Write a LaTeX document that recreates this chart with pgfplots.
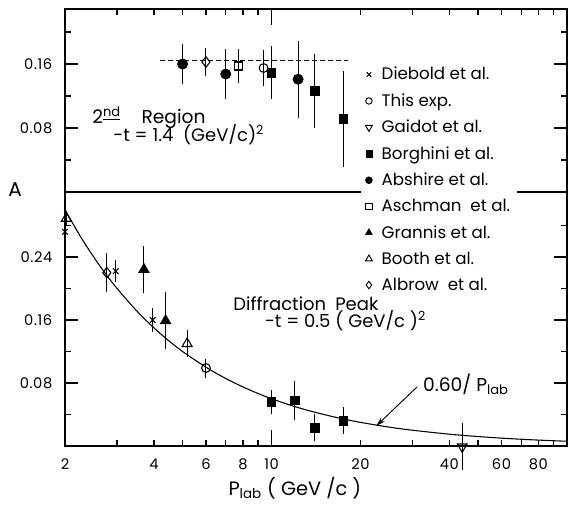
\documentclass[border=0pt]{standalone}
\usepackage{fontspec}
\setmainfont{Poppins}
\newfontfamily\ticks[LetterSpace=4]{Poppins}
\usepackage{pgfplots}
\pgfplotsset{compat=1.18}
\usetikzlibrary{arrows.meta}

\pgfplotsset{
  errpt/.style={only marks, black, line width=0.8pt,
    error bars/y dir=both, error bars/y explicit,
    error bars/error bar style={line width=0.75pt, solid},
    error bars/error mark options={line width=0.75pt, mark size=3pt}},
  diebold/.style={mark=x, mark size=3pt},
  thisexp/.style={mark=o, mark size=3.3pt, mark options={fill=white}},
  gaidot/.style={mark=triangle, mark size=4.2pt, mark options={rotate=180, fill=white}},
  borghini/.style={mark=square*, mark size=3.2pt},
  abshire/.style={mark=*, mark size=3.7pt},
  aschman/.style={mark=square, mark size=3pt, mark options={fill=white}},
  grannis/.style={mark=triangle*, mark size=4.3pt},
  booth/.style={mark=triangle, mark size=4.3pt, mark options={fill=white}},
  albrow/.style={mark=diamond, mark size=4pt, mark options={fill=white}},
}

\begin{document}
\begin{tikzpicture}
% upper panel: 2nd region
\begin{axis}[name=upper,
    scale only axis, width=376.5pt, height=137.25pt,
    at={(0pt,190.5pt)}, anchor=south west,
    xmode=log, xmin=2, xmax=100, ymin=0, ymax=0.2288,
    axis line style={line width=1.1pt},
    tick style={line width=0.9pt, black},
    major tick length=4.5pt, minor tick length=4.5pt,
    tick align=inside,
    ticklabel style={font=\ticks\fontsize{11}{12}\selectfont},
    yticklabel style={xshift=-6pt},
    xtick={2,3,4,5,6,7,8,9,20,30,40,50,60,70,80,90},
    xtick pos=right, xticklabels={},
    extra x ticks={10}, extra x tick labels={},
    extra x tick style={major tick length=12pt},
    ytick={0.04,0.12,0.20}, yticklabels={},
    extra y ticks={0.08,0.16}, extra y tick labels={0.08,0.16},
    extra y tick style={major tick length=10pt},
  ]
\addplot[black, line width=0.7pt, dash pattern=on 3.5pt off 2.5pt] coordinates {(4.2,0.164) (18.2,0.164)};
\addplot[errpt, abshire] coordinates {(5.0,0.160) +- (0,0.020) (7.0,0.1475) +- (0,0.026) (12.3,0.141) +- (0,0.043)};
\addplot[errpt, albrow] coordinates {(6.0,0.1625) +- (0,0.012)};
\addplot[errpt, aschman] coordinates {(7.75,0.1575) +- (0,0.016)};
\addplot[errpt, thisexp] coordinates {(9.4,0.155) +- (0,0.017)};
\addplot[errpt, borghini] coordinates {(10.0,0.149) +- (0,0.028) (14.0,0.126) +- (0,0.041) (17.5,0.091) +- (0,0.055)};
\node[anchor=west, inner sep=0pt, font=\fontsize{14}{16}\selectfont] at (axis description cs:0.054,0.404)
  {2\textsuperscript{\underline{nd}}\hspace{1.1em}Region};
\node[anchor=west, inner sep=0pt, font=\fontsize{13.5}{16}\selectfont] at (axis description cs:0.096,0.315)
  {-t = 1.4\ \ (GeV/c)\textsuperscript{2}};
\end{axis}

% lower panel: diffraction peak
\begin{axis}[name=lower,
    scale only axis, width=376.5pt, height=190.5pt,
    at={(0pt,0pt)}, anchor=south west,
    xmode=log, xmin=2, xmax=100, ymin=0, ymax=0.3225, clip=false,
    axis line style={line width=1.1pt},
    tick style={line width=0.9pt, black},
    major tick length=4.5pt, minor tick length=4.5pt,
    tick align=inside,
    ticklabel style={font=\ticks\fontsize{11}{12}\selectfont},
    xticklabel style={yshift=-6pt},
    yticklabel style={xshift=-6pt},
    xtick={2,3,4,5,6,7,8,9,20,30,40,50,60,70,80,90},
    xticklabels={2,,4,,6,,8,,20,,40,,60,,80,},
    xtick pos=left,
    extra x ticks={10}, extra x tick labels={10},
    extra x tick style={major tick length=12pt},
    ytick={0.04,0.12,0.20,0.28}, yticklabels={},
    extra y ticks={0.08,0.16,0.24}, extra y tick labels={0.08,0.16,0.24},
    extra y tick style={major tick length=10pt},
    legend cell align=left,
    legend style={at={(axis description cs:0.59,1.508)}, anchor=north west,
      draw=none, fill=white, font=\fontsize{12.5}{14}\selectfont,
      row sep=4.8pt, column sep=5pt, inner xsep=3pt, inner ysep=1pt},
  ]
\addlegendimage{only marks, mark=x, mark size=2.4pt, line width=0.7pt}
\addlegendentry{Diebold et al.}
\addlegendimage{only marks, mark=o, mark size=2.4pt, line width=0.7pt}
\addlegendentry{This exp.}
\addlegendimage{only marks, mark=triangle, mark size=3pt, line width=0.7pt, mark options={rotate=180}}
\addlegendentry{Gaidot et al.}
\addlegendimage{only marks, mark=square*, mark size=2.3pt}
\addlegendentry{Borghini et al.}
\addlegendimage{only marks, mark=*, mark size=2.6pt}
\addlegendentry{Abshire et al.}
\addlegendimage{only marks, mark=square, mark size=2.3pt, line width=0.7pt}
\addlegendentry{Aschman\ \ et al.}
\addlegendimage{only marks, mark=triangle*, mark size=3pt}
\addlegendentry{Grannis et al.}
\addlegendimage{only marks, mark=triangle, mark size=3pt, line width=0.7pt}
\addlegendentry{Booth et al.}
\addlegendimage{only marks, mark=diamond, mark size=2.8pt, line width=0.7pt}
\addlegendentry{Albrow\ \ et al.}

% 0.60 / P_lab
\addplot[black, line width=0.8pt, smooth, forget plot] coordinates {
  (2,0.3) (2.25,0.2667) (2.5,0.24) (2.75,0.2182) (3,0.2) (3.5,0.1714)
  (4,0.15) (4.5,0.1333) (5,0.12) (6,0.1) (7,0.0857) (8,0.075) (9,0.0667)
  (10,0.06) (12,0.05) (14,0.0429) (17,0.0353) (20,0.03) (25,0.024)
  (30,0.02) (40,0.015) (50,0.012) (60,0.01) (70,0.00857) (80,0.0075) (100,0.006)};
\addplot[errpt, diebold, forget plot] coordinates {(2.0,0.272) +- (0,0.013) (2.97,0.222) +- (0,0.009) (3.96,0.160) +- (0,0.010)};
\addplot[errpt, booth, forget plot] coordinates {(2.02,0.289) +- (0,0.004) (5.18,0.130) +- (0,0.012)};
\addplot[errpt, albrow, forget plot] coordinates {(2.77,0.220) +- (0,0.020)};
\addplot[errpt, grannis, forget plot] coordinates {(3.7,0.224) +- (0,0.025) (4.38,0.159) +- (0,0.031)};
\addplot[errpt, thisexp, forget plot] coordinates {(6.0,0.099) +- (0,0.007)};
\addplot[errpt, borghini, forget plot] coordinates {(10.0,0.056) +- (0,0.010) (12.0,0.058) +- (0,0.020) (14.0,0.023) +- (0,0.012) (17.5,0.032) +- (0,0.012)};
\addplot[errpt, gaidot, forget plot] coordinates {(44.2,-0.001) +- (0,0.025)};

\node[anchor=west, inner sep=0pt, font=\fontsize{13.5}{16}\selectfont] at (axis description cs:0.335,0.559) {Diffraction\hspace{0.5em}Peak};
\node[anchor=west, inner sep=0pt, font=\fontsize{13.5}{16}\selectfont] at (axis description cs:0.398,0.494) {-t = 0.5 ( GeV/c )\textsuperscript{2}};
\node[anchor=west, inner sep=0pt, font=\fontsize{14}{16}\selectfont] at (axis description cs:0.713,0.244) {0.60/ P\textsubscript{lab}};
\draw[-{Stealth[length=7pt, width=4pt]}, line width=0.7pt] (axis description cs:0.701,0.232) -- (axis description cs:0.62,0.079);
\node[font=\fontsize{15}{16}\selectfont] at (axis description cs:-0.0996,1.008) {A};
\node[font=\fontsize{14.5}{16}\selectfont] at (axis description cs:0.458,-0.165) {P\textsubscript{lab} ( GeV /c )};
\end{axis}

\pgfresetboundingbox
\path[use as bounding box] (-48.75pt,-43.5pt) rectangle (377.25pt,334.5pt);
\end{tikzpicture}
\end{document}
